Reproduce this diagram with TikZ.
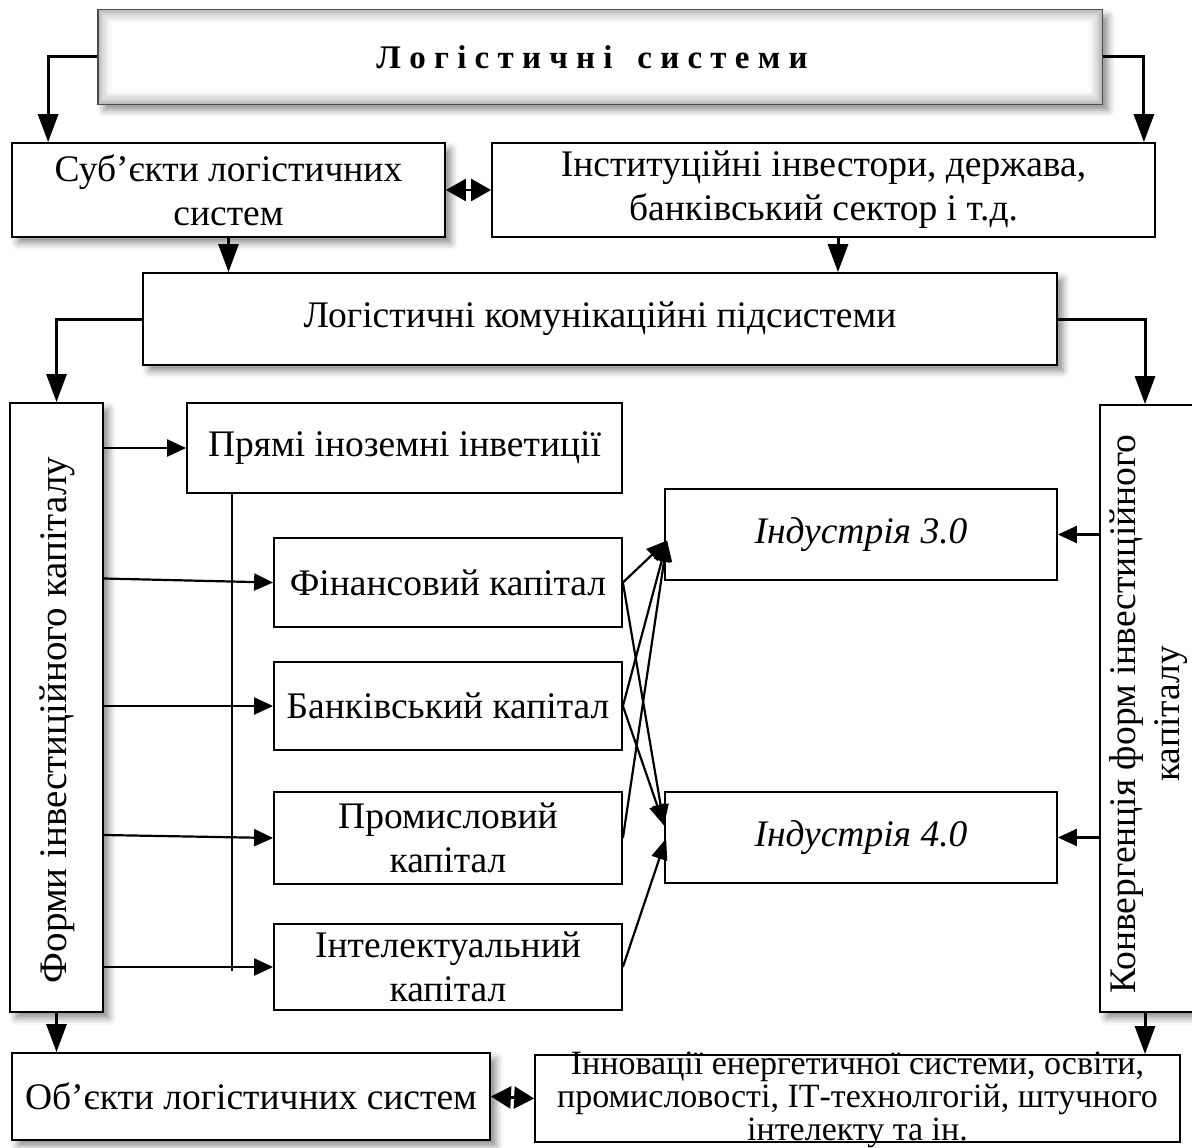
\documentclass[tikz,border=0pt]{standalone}
\usepackage{fontspec}
\setmainfont{Liberation Serif}
\usetikzlibrary{arrows.meta,shadows.blur,calc}
\begin{document}
\begin{tikzpicture}[x=1pt,y=-1pt,
  box/.style={draw=black, line width=1.8pt, fill=white, inner sep=0pt, minimum width=#1},
  shad/.style={blur shadow={shadow xshift=6pt, shadow yshift=-6pt, shadow blur radius=7pt, shadow opacity=45}},
  conn/.style={line width=3pt, -{Triangle[length=28pt,width=20pt]}},
  thinarr/.style={line width=2.2pt, -{Triangle[length=19pt,width=17pt]}},
  crossarr/.style={line width=2.2pt, -{Triangle[length=21pt,width=16pt]}},
  dbl/.style={line width=2.6pt, {Triangle[length=20pt,width=22pt]}-{Triangle[length=20pt,width=22pt]}},
  txt/.style={font=\fontsize{37.5}{44}\selectfont, align=center},
  itxt/.style={font=\fontsize{37.5}{44}\selectfont\itshape, align=center},
]
\useasboundingbox (0,0) rectangle (1192,1148);
\clip (0,0) rectangle (1192,1148);

% top bevelled box
\node[box=1004, minimum height=94, draw=gray!60!black, line width=1.4pt, fill=gray!55, shad] (top) at (600,57) {};
\foreach \i/\c in {1/50,2/44,3/38,4/32,5/27,6/22,7/17,8/13,9/9,10/6,11/3,12/0}{
  \fill[fill=gray!\c!white] ($(top.north west)+(1.2*\i,1.2*\i)$) rectangle ($(top.south east)-(1.2*\i,1.2*\i)$);
}
\node[font=\fontsize{33}{38}\selectfont\bfseries] (toptxt) at (592,57) {Л о г і с т и ч н і\ \ \ с и с т е м и};

% second row
\node[box=433, minimum height=94, shad, txt] (sub) at (228.5,190) {Суб’єкти логістичних\\систем};
\node[box=663, minimum height=94, txt] (inst) at (823.5,190) {Інституційні інвестори, держава,\\банківський сектор і т.д.};
\node[box=914, minimum height=92, shad, txt] (lg) at (600,319) {Логістичні комунікаційні підсистеми};

% side boxes
\node[box=93, minimum height=609, shad] (forms) at (56.5,707.5) {};
\node[txt, rotate=90, font=\fontsize{39}{44}\selectfont] (formst) at (57,720) {Форми інвестиційного капіталу};
\node[box=100, minimum height=607, shad] (konv) at (1150,708.5) {};
\node[txt, rotate=90] (konvt) at (1149,714) {Конвергенція форм інвестиційного\\капіталу};

% middle boxes
\node[box=435, minimum height=90, txt] (pry) at (404.5,448) {Прямі іноземні інветиції};
\node[box=348, minimum height=89, txt] (fin) at (448,582.5) {Фінансовий капітал};
\node[box=348, minimum height=88, txt] (bank) at (448,706) {Банківський капітал};
\node[box=348, minimum height=92, txt] (prom) at (448,838) {Промисловий\\капітал};
\node[box=348, minimum height=86, txt] (intel) at (448,967) {Інтелектуальний\\капітал};
\node[box=392, minimum height=91, itxt] (i3) at (861,534.5) {Індустрія 3.0};
\node[box=392, minimum height=91, itxt] (i4) at (861,837.5) {Індустрія 4.0};

% bottom boxes
\node[box=478, minimum height=87, shad, txt] (ob) at (251,1096.5) {Об’єкти логістичних систем};
\node[box=645, minimum height=87] (inn) at (857.5,1098.5) {};
\node[font=\fontsize{34}{33}\selectfont, align=center] (innt) at (857.5,1100) {Інновації енергетичної системи, освіти,\\промисловості, ІТ-технолгогій, штучного\\інтелекту та ін.};

% connectors
\draw[conn] (top.west) -| ([xshift=37pt]sub.north west);
\draw[conn] (top.east) -| ([xshift=-12pt]inst.north east);
\draw[dbl] (sub.east) -- (inst.west);
\draw[conn] (sub.south) -- (sub.south |- lg.north);
\draw[conn] ([xshift=14.5pt]inst.south) -- ([xshift=14.5pt]inst.south |- lg.north);
\draw[conn] (lg.west) -| (forms.north);
\draw[conn] (lg.east) -| ([xshift=-5pt]konv.north);

\draw[thinarr] (forms.east |- pry.west) -- (pry.west);
\draw[thinarr] ($(forms.east |- fin.west)+(0,-4)$) -- (fin.west);
\draw[thinarr] (forms.east |- bank.west) -- (bank.west);
\draw[thinarr] ($(forms.east |- prom.west)+(0,-3)$) -- (prom.west);
\draw[thinarr] (forms.east |- intel.west) -- (intel.west);
\draw[line width=1.8pt] ([xshift=-172.5pt]pry.south) -- ++(0,477);

\draw[thinarr] (konv.west |- i3.east) -- (i3.east);
\draw[thinarr] (konv.west |- i4.east) -- (i4.east);

\coordinate (t3) at ($(i3.west)+(3,6)$);
\coordinate (t4a) at ($(i4.west)+(0,-12)$);
\coordinate (t4b) at ($(i4.west)+(2,1)$);
\draw[crossarr] (fin.east) -- (t3);
\draw[crossarr] (bank.east) -- (t3);
\draw[crossarr] (prom.east) -- (t3);
\draw[crossarr] (fin.east) -- (t4a);
\draw[crossarr] (bank.east) -- (t4a);
\draw[crossarr] (intel.east) -- (t4b);

\draw[conn] (forms.south) -- (forms.south |- ob.north);
\draw[conn] ([xshift=-5pt]konv.south) -- ([xshift=-5pt]konv.south |- inn.north);
\draw[dbl] (ob.east) -- (inn.west);
\end{tikzpicture}
\end{document}
